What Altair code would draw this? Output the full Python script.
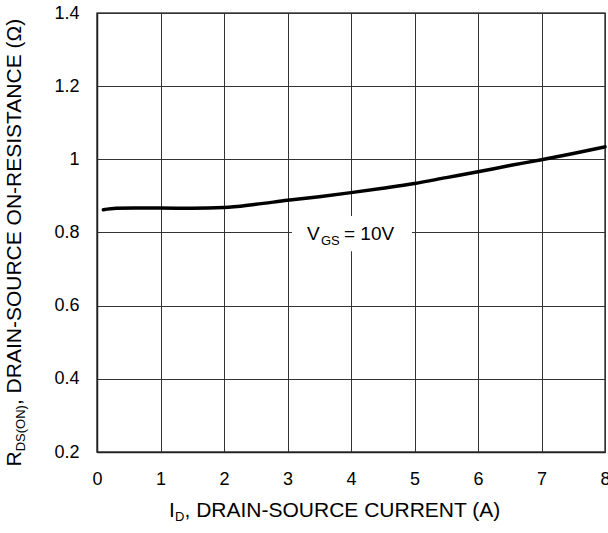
import altair as alt
import pandas as pd

# R_DS(on) vs drain current at V_GS = 10 V
current_a = [0.1, 0.3, 0.6, 1.0, 1.5, 2.0, 2.5, 3.0, 3.5, 4.0, 4.5, 5.0, 5.5, 6.0, 6.5, 7.0, 7.5, 8.0]
rds_on = [0.862, 0.866, 0.867, 0.867, 0.866, 0.868, 0.877, 0.888, 0.898, 0.909,
          0.921, 0.934, 0.950, 0.966, 0.983, 0.999, 1.016, 1.034]

x_ticks = [0, 1, 2, 3, 4, 5, 6, 7, 8]
y_ticks = [0.2, 0.4, 0.6, 0.8, 1.0, 1.2, 1.4]

# condition label, anchored in data units, with its white backing box
label_pos = {"x": [4.0], "y": [0.8]}
label_box = {"x": [3.07], "x2": [4.96], "y": [0.749], "y2": [0.845]}

FONT = "Liberation Sans"
W, H = 508, 439

curve_df = pd.DataFrame({"id": current_a, "rds": rds_on})
label_df = pd.DataFrame(label_pos)
box_df = pd.DataFrame(label_box)
one_row = pd.DataFrame({"k": [0]})

x_scale = alt.Scale(domain=[0, 8], nice=False, zero=False)
y_scale = alt.Scale(domain=[0.2, 1.4], nice=False, zero=False)

x_axis = alt.Axis(values=x_ticks, title=None, format="d", labelFlush=False, labelOverlap=False)
y_axis = alt.Axis(values=y_ticks, title=None, format=".1~f", labelFlush=False, labelOverlap=False)

curve = alt.Chart(curve_df).mark_line(
    color="black", strokeWidth=3.5, interpolate="monotone", strokeCap="round"
).encode(
    x=alt.X("id:Q", scale=x_scale, axis=x_axis),
    y=alt.Y("rds:Q", scale=y_scale, axis=y_axis),
)

box = alt.Chart(box_df).mark_rect(fill="white", stroke=None).encode(
    x=alt.X("x:Q", scale=x_scale),
    x2="x2:Q",
    y=alt.Y("y:Q", scale=y_scale),
    y2="y2:Q",
)


def label_piece(txt, size, dx, dy):
    return alt.Chart(label_df).mark_text(
        text=txt, font=FONT, fontSize=size, color="black",
        align="left", baseline="alphabetic", dx=dx, dy=dy,
    ).encode(x=alt.X("x:Q", scale=x_scale), y=alt.Y("y:Q", scale=y_scale))


vgs_label = (
    label_piece("V", 19, -44, 7)
    + label_piece("GS", 13, -30, 12)
    + label_piece("= 10V", 19, -7, 7)
)


def title_piece(txt, size, px, py, angle=0):
    return alt.Chart(one_row).mark_text(
        text=txt, font=FONT, fontSize=size, color="black",
        align="left", baseline="alphabetic", angle=angle,
    ).encode(x=alt.value(px), y=alt.value(py))


# axis titles with subscripts, composed piece by piece
x_title = (
    title_piece("I", 21, 72, 504)
    + title_piece("D", 13, 78.1, 508)
    + title_piece(", DRAIN-SOURCE CURRENT (A)", 21, 87.5, 504)
)

y_title = (
    title_piece("R", 21, -76, 453.5, 270)
    + title_piece("DS(ON)", 13, -72, 438.3, 270)
    + title_piece(", DRAIN-SOURCE ON-RESISTANCE (Ω)", 21, -76, 392.1, 270)
)

chart = alt.layer(box, curve, vgs_label, x_title, y_title).properties(
    width=W,
    height=H,
    padding={"left": 97, "top": 13, "right": 3, "bottom": 81},
    autosize=alt.AutoSizeParams(type="none"),
    background="white",
).configure_view(
    stroke="#444", strokeWidth=1.5
).configure_axis(
    grid=True, gridColor="#333", gridWidth=1, gridOpacity=1,
    domainColor="#222", domainWidth=1.5, ticks=False,
    labelFont=FONT, labelFontSize=18, labelColor="black", labelPadding=18,
)

chart.save("out.html", embed_options={"renderer": "svg", "actions": False})
